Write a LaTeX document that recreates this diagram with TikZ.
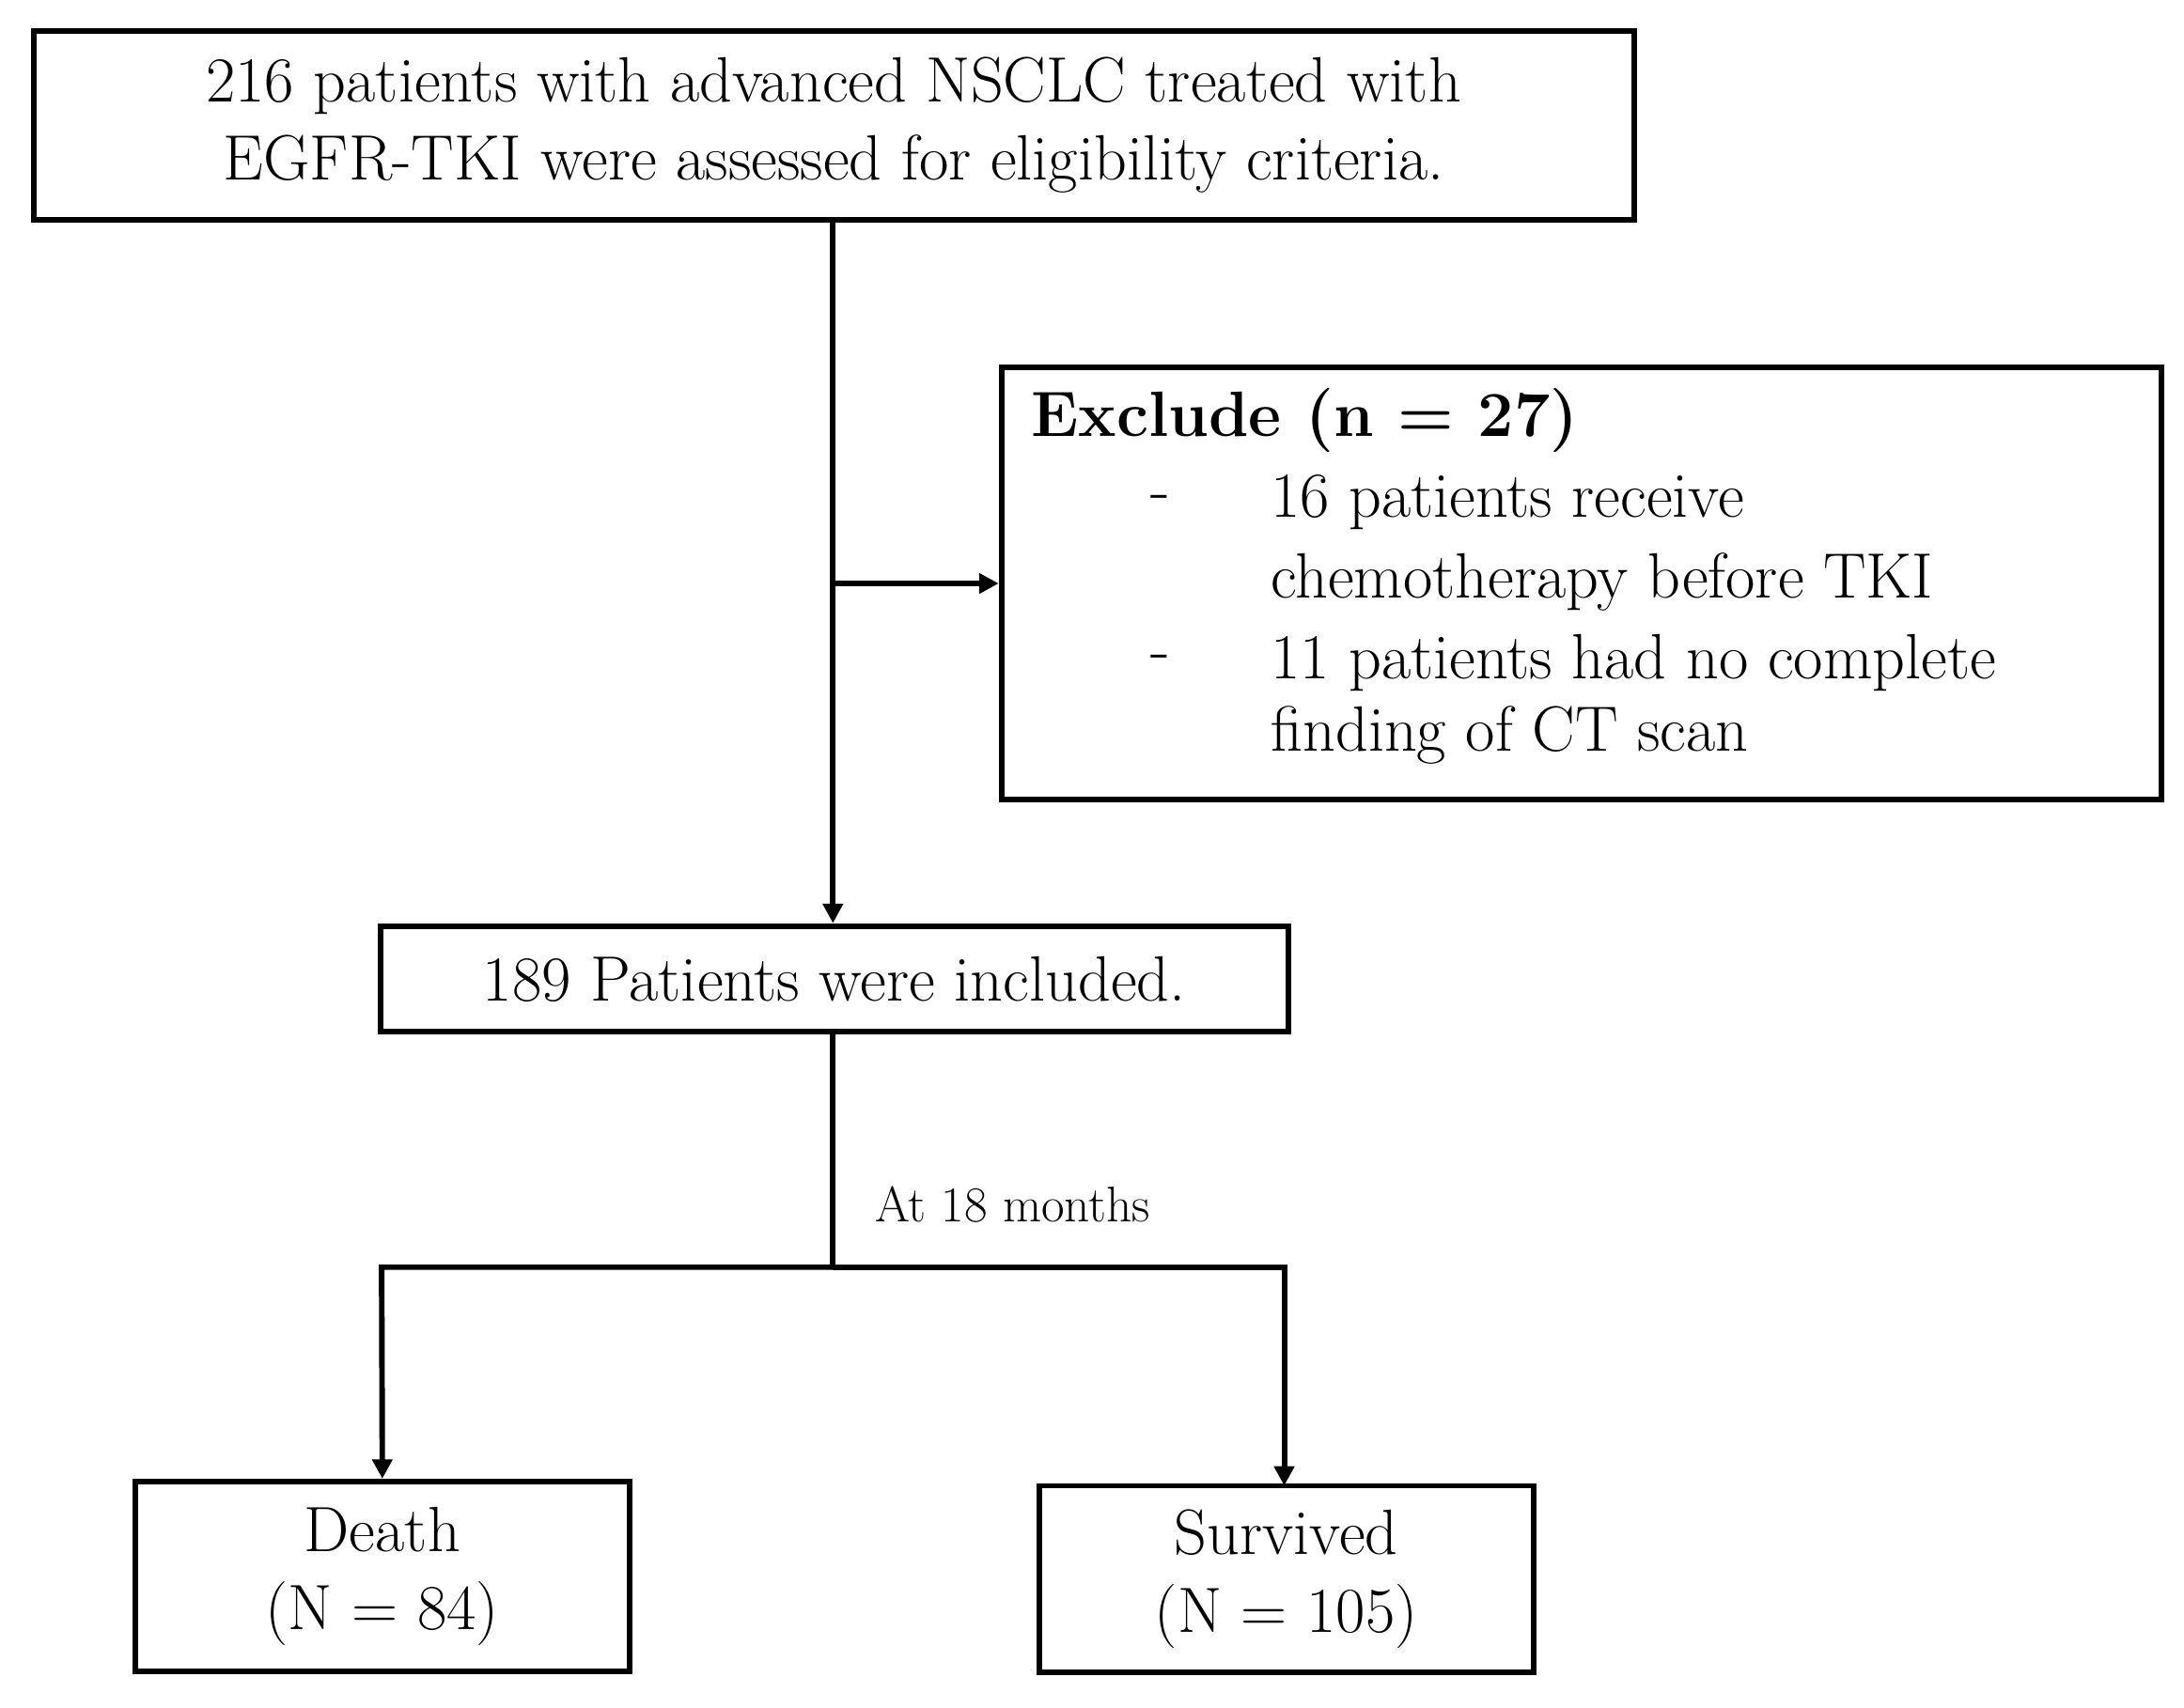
\documentclass[tikz,border=0pt]{standalone}
\usetikzlibrary{arrows.meta}
\begin{document}
\begin{tikzpicture}[x=0.5pt,y=-0.5pt,
 box/.style={draw,line width=2pt,inner sep=0pt,align=center,font=\fontsize{23}{28}\selectfont},
 txt/.style={anchor=west,inner sep=0pt,font=\fontsize{23}{28}\selectfont},
 ln/.style={line width=2pt},
 arr/.style={ln,-{Triangle[length=7pt,width=7pt]}}]
\useasboundingbox (0,0) rectangle (1568,1226);
\node[box,minimum width=574.5pt,minimum height=68pt] (top) at (598.5,90) {216 patients with advanced NSCLC treated with\\EGFR-TKI were assessed for eligibility criteria.};
\node[box,minimum width=416.5pt,minimum height=155pt] (exc) at (1135.5,419) {};
\node[txt,font=\bfseries\fontsize{23}{28}\selectfont] (e0) at (740,302) {Exclude (n = 27)};
\node[txt] (d1) at (826,361) {-};
\node[txt] (e1) at (912,361) {16 patients receive};
\node[txt] (e2) at (912,418) {chemotherapy before TKI};
\node[txt] (d2) at (826,476) {-};
\node[txt] (e3) at (912,476) {11 patients had no complete};
\node[txt] (e4) at (912,528) {finding of CT scan};
\node[box,minimum width=326pt,minimum height=38pt] (inc) at (599,703) {189 Patients were included.};
\node[box,minimum width=177.5pt,minimum height=68pt] (death) at (274.5,1132) {Death\\(N = 84)};
\node[box,minimum width=177.5pt,minimum height=67pt] (surv) at (923.5,1134) {Survived\\(N = 105)};
\coordinate (br) at (598,419);
\coordinate (sp) at (598,910);
\draw[arr] (top.south -| br) -- (inc.north -| br);
\draw[arr] (br) -- (exc.west |- br);
\draw[ln] (inc.south -| sp) -- (sp);
\node[anchor=west,inner sep=0pt,font=\fontsize{18}{22}\selectfont] (lab) at (628,865) {At 18 months};
\draw[arr] (sp) -- (274,910) -- (death.north);
\draw[arr] (sp) -- (922,910) -- (922,1067);
\end{tikzpicture}
\end{document}
